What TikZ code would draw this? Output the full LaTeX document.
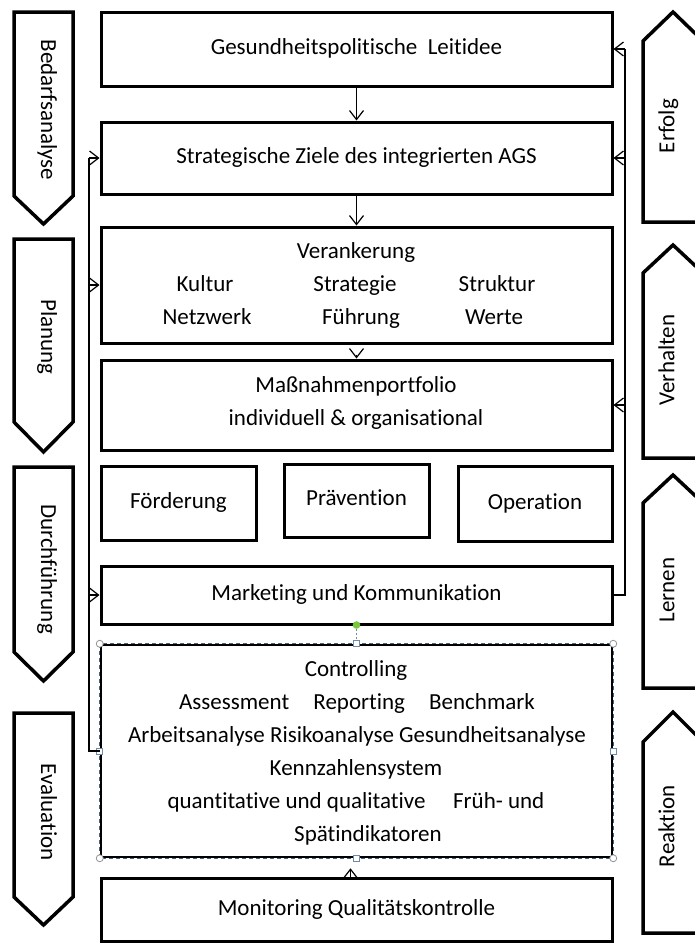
\documentclass[tikz,border=0pt]{standalone}
\usepackage{fontspec}
\setmainfont{Carlito}[Ligatures=NoCommon]
\usetikzlibrary{arrows.meta}
\definecolor{selblue}{RGB}{70,100,130}
\definecolor{handlegray}{RGB}{150,150,150}
\definecolor{handleblue}{RGB}{110,140,170}
\definecolor{rotgreen}{RGB}{120,200,60}
\begin{document}
\begin{tikzpicture}[x=1pt,y=-1pt,
  fnt/.style={font=\fontsize{23}{28}\selectfont, text height=1.25em, text depth=0.16em},
  fntr/.style={font=\fontsize{23}{28}\selectfont, text height=0.62em, text depth=0.16em},
  txt/.style={fnt, inner sep=0pt},
  rtxt/.style={fntr, inner sep=0pt},
  box/.style={draw, line width=3pt, inner sep=0pt, minimum width=511pt, fnt},
  sbox/.style={draw, line width=3pt, inner sep=0pt, fnt},
  penta/.style={draw, line width=3.5pt, line join=miter},
  fb/.style={line width=1.2pt},
  arr/.style={line width=1.2pt, -{Straight Barb[length=9pt,width=14pt,line width=1.2pt]}}
]
\useasboundingbox (0,0) rectangle (694,943);

% ---- left pentagons (pointing down)
\draw[penta] (14,12) -- (73,12) -- (73,196) -- (43.5,224) -- (14,196) -- cycle;
\node[rtxt, rotate=-90] (pBed) at (43.5,110) {Bedarfsanalyse};
\draw[penta] (14,239) -- (73,239) -- (73,422) -- (43.5,452) -- (14,422) -- cycle;
\node[rtxt, rotate=-90] (pPla) at (43.5,337) {Planung};
\draw[penta] (14,467) -- (73,467) -- (73,652) -- (43.5,681) -- (14,652) -- cycle;
\node[rtxt, rotate=-90] (pDur) at (43.5,569) {Durchführung};
\draw[penta] (14,713) -- (73,713) -- (73,897) -- (43.5,925) -- (14,897) -- cycle;
\node[rtxt, rotate=-90] (pEva) at (43.5,812) {Evaluation};

% ---- right pentagons (pointing up)
\draw[penta] (643,222) -- (643,41) -- (673,12) -- (703,41) -- (703,222) -- cycle;
\node[rtxt, rotate=90] (pErf) at (672,126) {Erfolg};
\draw[penta] (643,458) -- (643,273) -- (673,245) -- (703,273) -- (703,458) -- cycle;
\node[rtxt, rotate=90] (pVer) at (672,360) {Verhalten};
\draw[penta] (643,688) -- (643,503) -- (673,475) -- (703,503) -- (703,688) -- cycle;
\node[rtxt, rotate=90] (pLer) at (672,590) {Lernen};
\draw[penta] (643,933) -- (643,742) -- (673,712) -- (703,742) -- (703,933) -- cycle;
\node[rtxt, rotate=90] (pRea) at (672,826) {Reaktion};

% ---- main boxes
\node[box, minimum height=74pt] (b1) at (356.5,49) {Gesundheitspolitische\ \ Leitidee};
\node[box, minimum height=72pt] (b2) at (356.5,158) {Strategische Ziele des integrierten AGS};
\node[box, minimum height=116pt] (b3) at (356.5,285) {};
\node[txt] (t3a) at (356,253) {Verankerung};
\node[txt] (t3b) at (205,286) {Kultur};
\node[txt] (t3c) at (355,286) {Strategie};
\node[txt] (t3d) at (497,286) {Struktur};
\node[txt] (t3e) at (207,319) {Netzwerk};
\node[txt] (t3f) at (361,319) {Führung};
\node[txt] (t3g) at (494,319) {Werte};
\node[box, minimum height=90pt] (b4) at (356.5,405) {};
\node[txt] (t4a) at (356,387) {Maßnahmenportfolio};
\node[txt] (t4b) at (356,420) {individuell \& organisational};

\node[sbox, minimum width=155pt, minimum height=74pt] (f1) at (178.5,503) {Förderung};
\node[sbox, minimum width=145pt, minimum height=73pt] (f2) at (356.5,500.5) {Prävention};
\node[sbox, minimum width=154pt, minimum height=75pt] (f3) at (535,504) {Operation};

\node[box, minimum height=58pt] (b6) at (356.5,595) {Marketing und Kommunikation};

\node[draw, line width=2.5pt, inner sep=0pt, minimum width=511pt, minimum height=212pt] (ctrl) at (356.5,751) {};
\node[txt] (c1) at (356,671) {Controlling};
\node[txt] (c2) at (357,704) {Assessment\hspace{1.05em}Reporting\hspace{1.05em}Benchmark};
\node[txt] (c3) at (357,737) {Arbeitsanalyse Risikoanalyse Gesundheitsanalyse};
\node[txt] (c4) at (356,770) {Kennzahlensystem};
\node[txt] (c5) at (356,803) {quantitative und qualitative\hspace{1.2em}Früh- und};
\node[txt] (c6) at (368,836) {Spätindikatoren};

\node[box, minimum height=63pt] (b8) at (356.5,910) {Monitoring Qualitätskontrolle};

% ---- selection frame of the controlling box
\draw[selblue, line width=1pt, dash pattern=on 4pt off 3pt] (ctrl.north west) rectangle (ctrl.south east);
\coordinate (rot) at (356.5,625);
\draw[handleblue, line width=0.8pt, dash pattern=on 2pt off 2pt] (rot) -- (ctrl.north);
\fill[rotgreen] (rot) circle (3.8pt);
\foreach \a in {north west, north east, south west, south east}
  \draw[handlegray, fill=white, line width=0.8pt] (ctrl.\a) circle (3.5pt);
\foreach \a in {north, south, west, east}
  \draw[handleblue, fill=white, line width=0.8pt] ([xshift=-3pt,yshift=-3pt]ctrl.\a) rectangle ([xshift=3pt,yshift=3pt]ctrl.\a);

% ---- vertical flow arrows
\draw[arr] (b1.south) -- (b2.north);
\draw[arr] (b2.south) -- (b3.north);
\draw[arr] ([yshift=-10pt]b3.south) -- (b4.north);
\draw[arr] ([xshift=-6pt]b8.north) -- ([xshift=-6pt,yshift=-10pt]ctrl.south);

% ---- left feedback line
\coordinate (lt) at (89,158);
\draw[fb] (ctrl.west) -| (lt);
\draw[arr] (lt) -- (b2.west);
\draw[arr] (lt |- b3.west) -- (b3.west);
\draw[arr] (lt |- b6.west) -- (b6.west);

% ---- right feedback line
\coordinate (rt) at (625,49);
\draw[fb] (b6.east) -| (rt);
\draw[arr] (rt) -- (b1.east);
\draw[arr] (rt |- b2.east) -- (b2.east);
\draw[arr] (rt |- b4.east) -- (b4.east);
\end{tikzpicture}
\end{document}
